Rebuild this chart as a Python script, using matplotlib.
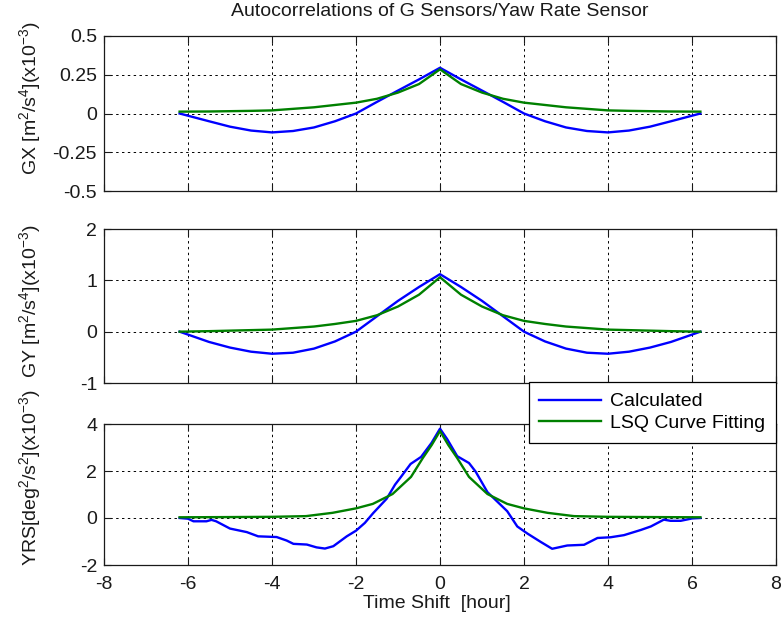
import matplotlib
matplotlib.use("Agg")
import matplotlib.pyplot as plt
import numpy as np

plt.rcParams['font.family'] = ['Liberation Sans', 'DejaVu Sans']
plt.rcParams['mathtext.fontset'] = 'custom'
plt.rcParams['mathtext.rm'] = 'Liberation Sans'
plt.rcParams['mathtext.it'] = 'Liberation Sans:italic'
plt.rcParams['mathtext.default'] = 'regular'
plt.rcParams['axes.unicode_minus'] = False

# ---------------- data ----------------
title = "Autocorrelations of G Sensors/Yaw Rate Sensor"
xlabel = "Time Shift  [hour]"
legend_labels = ["Calculated", "LSQ Curve Fitting"]

gx_x = [-6.2, -5.5, -5.0, -4.5, -4.0, -3.5, -3.0, -2.5, -2.0, -1.5, -1.0, -0.5, 0.0,
        0.5, 1.0, 1.5, 2.0, 2.5, 3.0, 3.5, 4.0, 4.5, 5.0, 5.5, 6.2]
gx_calc = [0.0, -0.05, -0.085, -0.11, -0.122, -0.113, -0.09, -0.05, 0.0, 0.075, 0.148, 0.22, 0.295,
           0.22, 0.148, 0.075, 0.0, -0.05, -0.09, -0.113, -0.122, -0.11, -0.085, -0.05, 0.0]
gx_fit = [0.012, 0.013, 0.015, 0.017, 0.02, 0.03, 0.04, 0.055, 0.07, 0.095, 0.135, 0.19, 0.285,
          0.19, 0.135, 0.095, 0.07, 0.055, 0.04, 0.03, 0.02, 0.017, 0.015, 0.013, 0.012]

gy_x = gx_x
gy_calc = [0.0, -0.2, -0.31, -0.39, -0.43, -0.41, -0.33, -0.19, 0.0, 0.3, 0.6, 0.87, 1.12,
           0.87, 0.6, 0.3, 0.0, -0.19, -0.33, -0.41, -0.43, -0.39, -0.31, -0.2, 0.0]
gy_fit = [0.0, 0.01, 0.02, 0.03, 0.04, 0.07, 0.1, 0.15, 0.21, 0.32, 0.49, 0.72, 1.06,
          0.72, 0.49, 0.32, 0.21, 0.15, 0.1, 0.07, 0.04, 0.03, 0.02, 0.01, 0.0]

yrs_calc_x = [-6.2, -6.0, -5.87, -5.56, -5.44, -5.33, -5.0, -4.6, -4.33, -3.89, -3.65, -3.49,
              -3.17, -2.94, -2.74, -2.54, -2.22, -2.0, -1.79, -1.59, -1.27, -1.07, -0.95,
              -0.7, -0.45, -0.2, 0.0,
              0.17, 0.41, 0.69, 0.85, 1.13, 1.6, 1.84, 2.08, 2.4, 2.67, 3.03, 3.43, 3.75,
              4.06, 4.38, 4.78, 5.02, 5.33, 5.49, 5.73, 6.0, 6.2]
yrs_calc = [0.0, -0.03, -0.14, -0.14, -0.08, -0.14, -0.45, -0.6, -0.78, -0.81, -0.96, -1.1,
            -1.13, -1.25, -1.3, -1.2, -0.78, -0.54, -0.21, 0.21, 0.82, 1.42, 1.7,
            2.3, 2.6, 3.2, 3.8,
            3.36, 2.63, 2.34, 1.97, 1.1, 0.29, -0.36, -0.66, -1.02, -1.31, -1.17, -1.14, -0.85,
            -0.82, -0.73, -0.51, -0.36, -0.07, -0.12, -0.12, -0.02, 0.0]
yrs_fit_x = [-6.2, -5.0, -4.0, -3.19, -2.56, -2.0, -1.6, -1.13, -0.69, -0.41, -0.2, 0.0,
             0.2, 0.41, 0.69, 1.13, 1.6, 2.0, 2.56, 3.19, 4.0, 5.0, 6.2]
yrs_fit = [0.03, 0.04, 0.05, 0.08, 0.22, 0.41, 0.6, 1.02, 1.75, 2.55, 3.1, 3.7,
           3.1, 2.55, 1.75, 1.02, 0.6, 0.41, 0.22, 0.08, 0.05, 0.04, 0.03]

ylabels = ["GX [m$^2$/s$^4$](x10$^{-3}$)",
           "GY [m$^2$/s$^4$](x10$^{-3}$)",
           "YRS[deg$^2$/s$^2$](x10$^{-3}$)"]
xticks = [-8, -6, -4, -2, 0, 2, 4, 6, 8]
gx_ticks = [-0.5, -0.25, 0, 0.25, 0.5]
gx_ticklabels = ["-0.5", "-0.25", "0", "0.25", "0.5"]
gy_ticks = [-1, 0, 1, 2]
yrs_ticks = [-2, 0, 2, 4]

# ---------------- figure ----------------
W, H = 783, 624
fig = plt.figure(figsize=(W / 100, H / 100), dpi=100)
FS = 14
TXT = '#1a1a1a'

def px_axes(l, t, r, b):
    return fig.add_axes([l / W, 1 - b / H, (r - l) / W, (b - t) / H])

ax1 = px_axes(104, 36, 776, 191)
ax2 = px_axes(104, 229, 776, 383)
ax3 = px_axes(104, 424, 776, 565)

blue = '#0000FF'
green = '#008000'

panels = [
    (ax1, gx_x, gx_calc, gx_x, gx_fit, (-0.5, 0.5), gx_ticks, gx_ticklabels, 0.60),
    (ax2, gy_x, gy_calc, gy_x, gy_fit, (-1, 2), gy_ticks, None, 0.53),
    (ax3, yrs_calc_x, yrs_calc, yrs_fit_x, yrs_fit, (-2, 4), yrs_ticks, None, 0.62),
]

for i, (ax, xc, yc, xf, yf, ylim, yt, ytl, ly) in enumerate(panels):
    l1, = ax.plot(xc, yc, color=blue, lw=1.7, label=legend_labels[0])
    l2, = ax.plot(xf, yf, color=green, lw=1.7, label=legend_labels[1])
    ax.set_xlim(-8, 8)
    ax.set_ylim(*ylim)
    ax.set_xticks(xticks)
    ax.set_yticks(yt)
    if ytl is not None:
        ax.set_yticklabels(ytl)
    ax.grid(True, color='black', linestyle=(0, (2.5, 3.5)), linewidth=0.7)
    ax.tick_params(direction='in', length=5, width=0.8, top=True, right=True,
                   labelsize=FS, pad=5, colors=TXT)
    ax.tick_params(axis='x', pad=8)
    for s in ax.spines.values():
        s.set_color(TXT)
        s.set_linewidth(0.9)
    if i < 2:
        ax.set_xticklabels([])
    ax.set_ylabel(ylabels[i], fontsize=FS, color=TXT)
    ax.yaxis.set_label_coords(-0.091, ly)

ax3.set_xlabel(xlabel, fontsize=FS, color=TXT)
ax3.xaxis.set_label_coords(0.495, -0.215)

fig.text(440 / W, 1 - 12 / H, title, ha='center', va='center', fontsize=FS, color=TXT)

leg = fig.legend([l1, l2], legend_labels, loc='upper right',
                 bbox_to_anchor=(776 / W, 1 - 382 / H), borderaxespad=0,
                 fontsize=FS, frameon=True, fancybox=False, edgecolor='black',
                 framealpha=1, handlelength=3.2, handletextpad=0.45,
                 borderpad=0.55, labelspacing=0.2)
leg.get_frame().set_linewidth(0.9)

fig.savefig("out.png", dpi=100)
